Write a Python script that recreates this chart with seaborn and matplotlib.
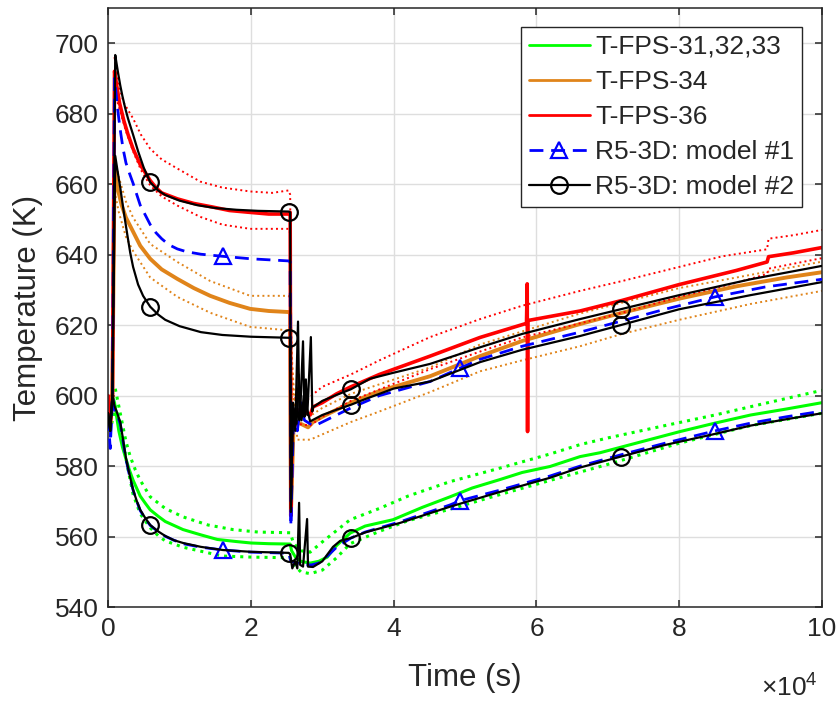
import numpy as np
import matplotlib
matplotlib.use("Agg")
import matplotlib.pyplot as plt
from matplotlib.lines import Line2D
import seaborn as sns

# Time in units of 1000 s, temperature in K

# T-FPS-31,32,33 : mean and band
g_t = [0, 0.3, 0.6, 0.9, 1.2, 1.5, 2, 2.5, 3, 3.5, 4.5, 5.2, 5.9, 7, 8, 10.5, 13, 15.3, 18, 20, 22.5, 25.5, 25.7, 26.3, 27,
       28.3, 29.5, 30.7, 32, 33.9, 36, 39.9, 44, 47.9, 51, 54.9, 58, 61.9, 66.1, 68.9, 73, 80.1, 85, 90, 95, 100]
g_T = [594, 596, 600, 598, 594, 590, 585.5, 582, 578.8, 576, 571.5, 569.5, 567.6, 565.8, 564.3, 562, 560.5, 559.2, 558.6, 558.2, 558, 557.9, 556, 554, 553,
       552.5, 553, 554.2, 557.5, 561, 563, 564.8, 568.3, 571.3, 573.8, 576.2, 578.2, 579.9, 582.7, 583.8, 586, 589.8, 592.2, 594.5, 596.2, 598]
gu_t = [0.5, 1, 1.5, 2, 2.5, 3.1, 3.8, 4.5, 5.9, 8, 10.5, 14, 17.5, 21, 25.5, 26, 27, 28.3, 30, 33.9, 38, 42, 47.9,
        55, 62, 66.1, 70, 78, 85, 92, 100]
gu_T = [600, 602, 597, 592, 587, 582.7, 579, 576, 571.3, 568, 565.6, 563.3, 562, 561.3, 561.1, 558, 556, 555.6, 558.5, 564.8, 568, 571.5, 575.6,
        579.5, 583.5, 586.1, 588, 591.5, 594.5, 597.8, 601.5]
gl_t = [0.5, 1, 1.5, 2, 2.7, 3.5, 4.5, 5.9, 7, 8, 10.5, 16, 20, 25.5, 26, 27, 28.3, 30, 32, 33.9, 38, 42, 47.9, 55, 62, 70, 80, 90, 100]
gl_T = [592, 597, 593, 588, 580, 572, 566.5, 562.5, 560.3, 558.8, 557, 554.5, 554.2, 554, 552, 550, 549.5, 550.5, 554, 558, 561.5, 564.5, 567.8, 572,
        576, 580.5, 586.5, 591.5, 595]

# T-FPS-34
o_t = [0, 0.3, 0.6, 0.9, 1.3, 1.9, 2.5, 3.5, 4.5, 5.9, 7.5, 9.7, 12, 14.3, 17, 19.9, 22.5, 25.3, 25.5, 25.6,
       26, 27, 28, 28.7, 30, 32, 34, 38, 45.1, 52.1, 58, 66.1, 72, 80, 88, 95, 100]
o_T = [598, 592, 600, 664, 659, 654, 650.5, 646.5, 642.5, 638.8, 635.8, 633.1, 630.5, 628.3, 626.3, 624.6, 624, 623.7, 623.5, 566,
       593, 592, 591, 592.5, 594, 596, 598, 601.3, 605.5, 611.2, 615.5, 620.3, 623.5, 627.5, 631, 633.5, 635]
ou_t = [0.9, 1.5, 2.5, 3.5, 5.9, 9.7, 14.3, 19.9, 25.3, 25.5, 26, 28.5, 30, 34, 45.1, 52.1, 66.1, 80, 100]
ou_T = [668, 662, 655, 650.5, 643, 637.9, 632.5, 628.3, 628.3, 627, 596, 594.5, 596.5, 600.5, 608, 614.5, 623.3, 630.5, 638]
ol_t = [0.9, 1.5, 2.5, 3.5, 5.9, 9.7, 14.3, 19.9, 25.3, 25.5, 26.5, 28.3, 30, 34, 38, 45.1, 52.1, 58, 66.1, 72, 80, 90, 100]
ol_T = [658, 652, 645, 641, 633.5, 628, 623.5, 619.5, 618.5, 617, 587.5, 587.5, 589, 592.5, 595.5, 601, 606.9, 610, 614, 617.5,
        621.5, 626, 629.7]

# T-FPS-36
r_t = [0, 0.3, 0.6, 0.9, 1.2, 1.6, 2.2, 2.8, 3.5, 4.5, 5.9, 6.7, 7.5, 9.7, 12, 14.6, 17, 19.7, 22.5, 25.3, 25.5,
       25.6, 25.8, 26.5, 27.5, 28.3, 28.7, 30, 32, 34, 38, 45.1, 52.1, 58.6, 58.7, 58.75, 58.8, 66.1, 72, 80, 88,
       92.3, 92.5, 96, 100]
r_T = [600, 592, 598, 692, 688, 683, 678, 674, 670, 665.5, 661, 659, 657.5, 655.8, 654.5, 653.5, 652.5, 652, 651.5, 651.5, 652,
       566, 594, 596, 595.5, 594.5, 596.8, 598, 600.5, 602.5, 606, 611.2, 616.5, 620.5, 631.7, 589.8, 621.3, 624, 627, 631.5, 635.5,
       637.9, 639.4, 640.5, 642]
ru_t = [0.9, 1.5, 2.2, 3.5, 4.6, 5.9, 7.5, 9.7, 12.9, 16, 19.9, 23, 25.3, 25.5, 25.7, 26.5, 27.5, 28.5, 30, 34, 38, 45.1,
        52.1, 58, 66.1, 72, 80, 86, 92.3, 92.5, 96, 100]
ru_T = [696, 688, 683, 678.6, 674, 670, 667, 664.4, 660.7, 659, 657.9, 657.5, 658.2, 657, 600, 599, 598, 600, 602.5, 606, 610, 616.6,
        621.7, 625.5, 629.7, 632.5, 636.5, 639.5, 641.5, 644.5, 645.5, 647]
rl_t = [0.9, 1.5, 2.5, 3.5, 4.6, 5.9, 7.5, 9.7, 12.9, 16, 19.9, 25.3, 25.5, 25.7, 26.5, 28.3, 30, 34, 45.1, 52.1, 58, 66.1,
        72, 80, 88, 92.3, 92.5, 100]
rl_T = [686, 682, 675, 669.3, 664, 659.6, 656.5, 653.9, 650.7, 648.5, 647.3, 647.3, 646, 590, 592, 591.5, 594, 598.5, 607.5, 612.5, 616.5, 620.5,
        623.5, 628, 632, 634.5, 636, 639]

# R5-3D model #1 (upper and lower positions)
m1u_t = [0, 0.3, 0.6, 0.9, 1.1, 1.3, 1.5, 1.8, 2.1, 2.5, 3, 3.5, 4.5, 5.9, 6.7, 7.5, 8.5, 9.7, 11, 13, 16.1, 20, 25.3, 25.5,
         25.6, 26.0, 26.5, 27.0, 27.5, 28.3, 29, 30, 32, 34, 38, 45.1, 49.3, 52.1, 58, 66.1, 72, 78, 85, 92, 100]
m1u_T = [594, 588, 598, 690, 686, 682, 678.5, 674, 670, 666, 663, 660.2, 654, 648.5, 646.2, 644.5, 642.8, 641.6, 640.8, 640.1, 639.5, 638.8, 638.2, 638,
         563, 596, 590, 598, 593, 592, 591.5, 592.5, 594.5, 596.5, 600, 604, 607.8, 610.3, 614, 618, 621.2, 624.5, 628, 630.8, 633]
m1l_t = [0, 0.3, 0.6, 0.9, 1.2, 1.7, 2.1, 2.5, 3, 3.5, 4, 4.5, 5.2, 5.9, 7, 8, 9.2, 10.5, 13, 16.1, 20, 25.3, 25.6, 26.5, 27.5, 28.5, 29.5,
         30.7, 32, 34, 36, 40.9, 47.9, 49.3, 54.9, 61.9, 66.1, 71.8, 78, 85, 90, 95, 100]
m1l_T = [594, 585, 600, 596, 595, 592, 587, 582, 577.3, 573.2, 570.1, 567.4, 565.1, 563.2, 561.4, 560.1, 559, 558, 557, 556.2, 555.6, 555.3, 553, 552.5, 552, 552, 552.5,
         554.5, 557, 559.6, 561.3, 564.2, 569, 570.2, 573.2, 577.2, 580, 583.2, 586.5, 590, 592.2, 594, 595.6]

# R5-3D model #2 (three positions)
m2u_t = [0, 0.3, 0.6, 1.0, 1.2, 1.4, 1.7, 2.0, 2.4, 2.8, 3.5, 4.2, 5.0, 5.9, 7, 8, 10, 12.5, 15, 18, 21, 25.3, 25.5, 25.6, 25.9,
         26.2, 26.6, 26.8, 27.0, 27.3, 27.5, 27.7, 27.9, 28.4, 28.6, 28.7, 30, 32, 34, 36.7, 40, 45.1, 52.1, 58, 66.1,
         71.8, 80, 90, 100]
m2u_T = [595, 590, 600, 696.6, 694, 691.5, 688, 685, 681.5, 678.5, 674, 669.3, 664.6, 660.5, 658.2, 656.9, 655.3, 654, 653.2, 652.7, 652.4, 652.2, 652, 567, 598,
         590, 621, 593, 600, 615.4, 594, 604.6, 594.5, 616.6, 595.5, 596.7, 598.5, 600.2, 601.8, 604.8, 606.5, 609, 613.7, 617.5, 621.7,
         624.5, 628.5, 633, 636.8]
m2m_t = [0, 0.3, 0.6, 1.0, 1.3, 1.7, 2.2, 2.7, 3.1, 3.5, 4.2, 4.9, 5.9, 7, 8, 10, 13, 16, 20, 25.3, 25.5, 25.6, 25.9, 26.4,
         26.7, 27.1, 27.4, 28.3, 30, 32, 34, 36, 40, 45.1, 52.1, 58, 66.1, 71.8, 80, 90, 100]
m2m_T = [595, 590, 600, 668, 664, 659, 652, 645.5, 640.5, 636.5, 631.5, 628.3, 625.2, 623, 621.5, 619.7, 618, 617.2, 616.7, 616.4, 616.3, 568, 596, 592,
         606, 593, 600, 592.7, 594.5, 596, 597.4, 599, 602, 604, 609.5, 613, 616.9, 620, 624.5, 628.5, 632.2]
m2l_t = [0, 0.3, 0.6, 0.9, 1.2, 1.7, 2.1, 2.5, 3, 3.5, 4, 4.5, 5.2, 5.9, 7, 8, 9.2, 10.5, 13, 16.1, 20, 25.3, 25.5, 25.8, 26.2, 26.5, 26.75,
         26.9, 27.3, 27.87, 28.0, 28.7, 30, 31.5, 32.5, 34, 36, 40.9, 47.9, 54.9, 61.9, 66.1, 71.8, 78, 84.7, 90, 95, 100]
m2l_T = [595, 590, 600, 597, 595.5, 592.5, 587.5, 582.3, 577.6, 573.3, 570.2, 567.6, 565.3, 563.3, 561.5, 560.2, 559, 558.2, 557.1, 556.2, 555.7, 555.4, 555, 551, 553, 551, 569.6,
         552, 551.5, 565, 551.5, 551.4, 553, 557.1, 558.8, 559.6, 561.2, 563.9, 568.5, 572.7, 576.7, 579.6, 582.7, 586, 589, 591.5, 593.3, 595]

m1_marks = [16.1, 49.3, 85]
m2_marks = [5.9, 25.3, 34, 71.8]

labels = ["T-FPS-31,32,33", "T-FPS-34", "T-FPS-36", "R5-3D: model #1", "R5-3D: model #2"]

GREEN, ORANGE, RED, BLUE, BLACK = "#00ff00", "#e0841a", "#ff0000", "#0000ff", "#000000"
DASH = (0, (5, 2.8))

sns.set_style("ticks")
plt.rcParams['font.family'] = ['Liberation Sans', 'DejaVu Sans']
plt.rcParams['mathtext.fontset'] = 'custom'
plt.rcParams['mathtext.rm'] = 'Liberation Sans'

fig, ax = plt.subplots(figsize=(8.38, 7.06), dpi=100)
fig.subplots_adjust(left=0.129, right=0.981, top=0.989, bottom=0.140)


def draw(t, T, color, lw=1.5, ls='-', marks=None, marker=None, z=2):
    t = list(t)
    kw = {}
    if marks is not None:
        kw = dict(marker=marker, markevery=[t.index(m) for m in marks], markersize=12,
                  markerfacecolor='none', markeredgecolor=color, markeredgewidth=1.6)
    sns.lineplot(x=np.array(t) * 1000, y=T, sort=False, estimator=None, color=color,
                 lw=lw, linestyle=ls, ax=ax, zorder=z, **kw)


# experiments
draw(gu_t, gu_T, GREEN, lw=2.2, ls=':')
draw(gl_t, gl_T, GREEN, lw=2.2, ls=':')
draw(g_t, g_T, GREEN, lw=2.2)
draw(ou_t, ou_T, ORANGE, lw=1.4, ls=':')
draw(ol_t, ol_T, ORANGE, lw=1.4, ls=':')
draw(o_t, o_T, ORANGE, lw=2.8)
draw(ru_t, ru_T, RED, lw=1.4, ls=':')
draw(rl_t, rl_T, RED, lw=1.4, ls=':')
draw(r_t, r_T, RED, lw=2.6)

# models
draw(m1u_t, m1u_T, BLUE, lw=2.0, ls=DASH, marks=m1_marks, marker='^', z=3)
draw(m1l_t, m1l_T, BLUE, lw=2.0, ls=DASH, marks=m1_marks, marker='^', z=3)
draw(m2u_t, m2u_T, BLACK, lw=1.6, marks=m2_marks, marker='o', z=4)
draw(m2m_t, m2m_T, BLACK, lw=1.6, marks=m2_marks, marker='o', z=4)
draw(m2l_t, m2l_T, BLACK, lw=1.6, marks=m2_marks, marker='o', z=4)

ax.set_xlim(0, 1e5)
ax.set_ylim(540, 710)
ax.set_xticks(np.arange(0, 100001, 20000))
ax.set_xticklabels(["0", "2", "4", "6", "8", "10"])
ax.set_yticks(np.arange(540, 701, 20))
ax.text(0.994, -0.15, r"$\times\mathregular{10^4}$", transform=ax.transAxes, ha='right',
        va='baseline', fontsize=19, color='#262626')

ax.grid(True, color='#dedede', lw=1)
ax.set_axisbelow(True)
for s in ax.spines.values():
    s.set_visible(True)
    s.set_color('#262626')
    s.set_linewidth(1.1)
ax.tick_params(direction='in', length=5, width=1.1, top=True, right=True,
               labelsize=19, colors='#262626', pad=7)

ax.set_xlabel("Time (s)", fontsize=22.5, color='#262626', labelpad=16)
ax.set_ylabel("Temperature (K)", fontsize=22.5, color='#262626', labelpad=8)

handles = [
    Line2D([], [], color=GREEN, lw=2),
    Line2D([], [], color=ORANGE, lw=2),
    Line2D([], [], color=RED, lw=2),
    Line2D([], [], color=BLUE, lw=2, ls=DASH, marker='^', ms=12, mfc='none', mew=1.6),
    Line2D([], [], color=BLACK, lw=1.6, marker='o', ms=12, mfc='none', mew=1.6),
]
leg = ax.legend(handles=handles, labels=labels, loc='upper right', bbox_to_anchor=(0.972, 0.968),
                borderaxespad=0, fontsize=19, fancybox=False, framealpha=1, edgecolor='#262626',
                handlelength=2.3, handletextpad=0.2, labelspacing=0.42, borderpad=0.3)
leg.get_frame().set_linewidth(1.0)

fig.savefig("out.png", dpi=100)
